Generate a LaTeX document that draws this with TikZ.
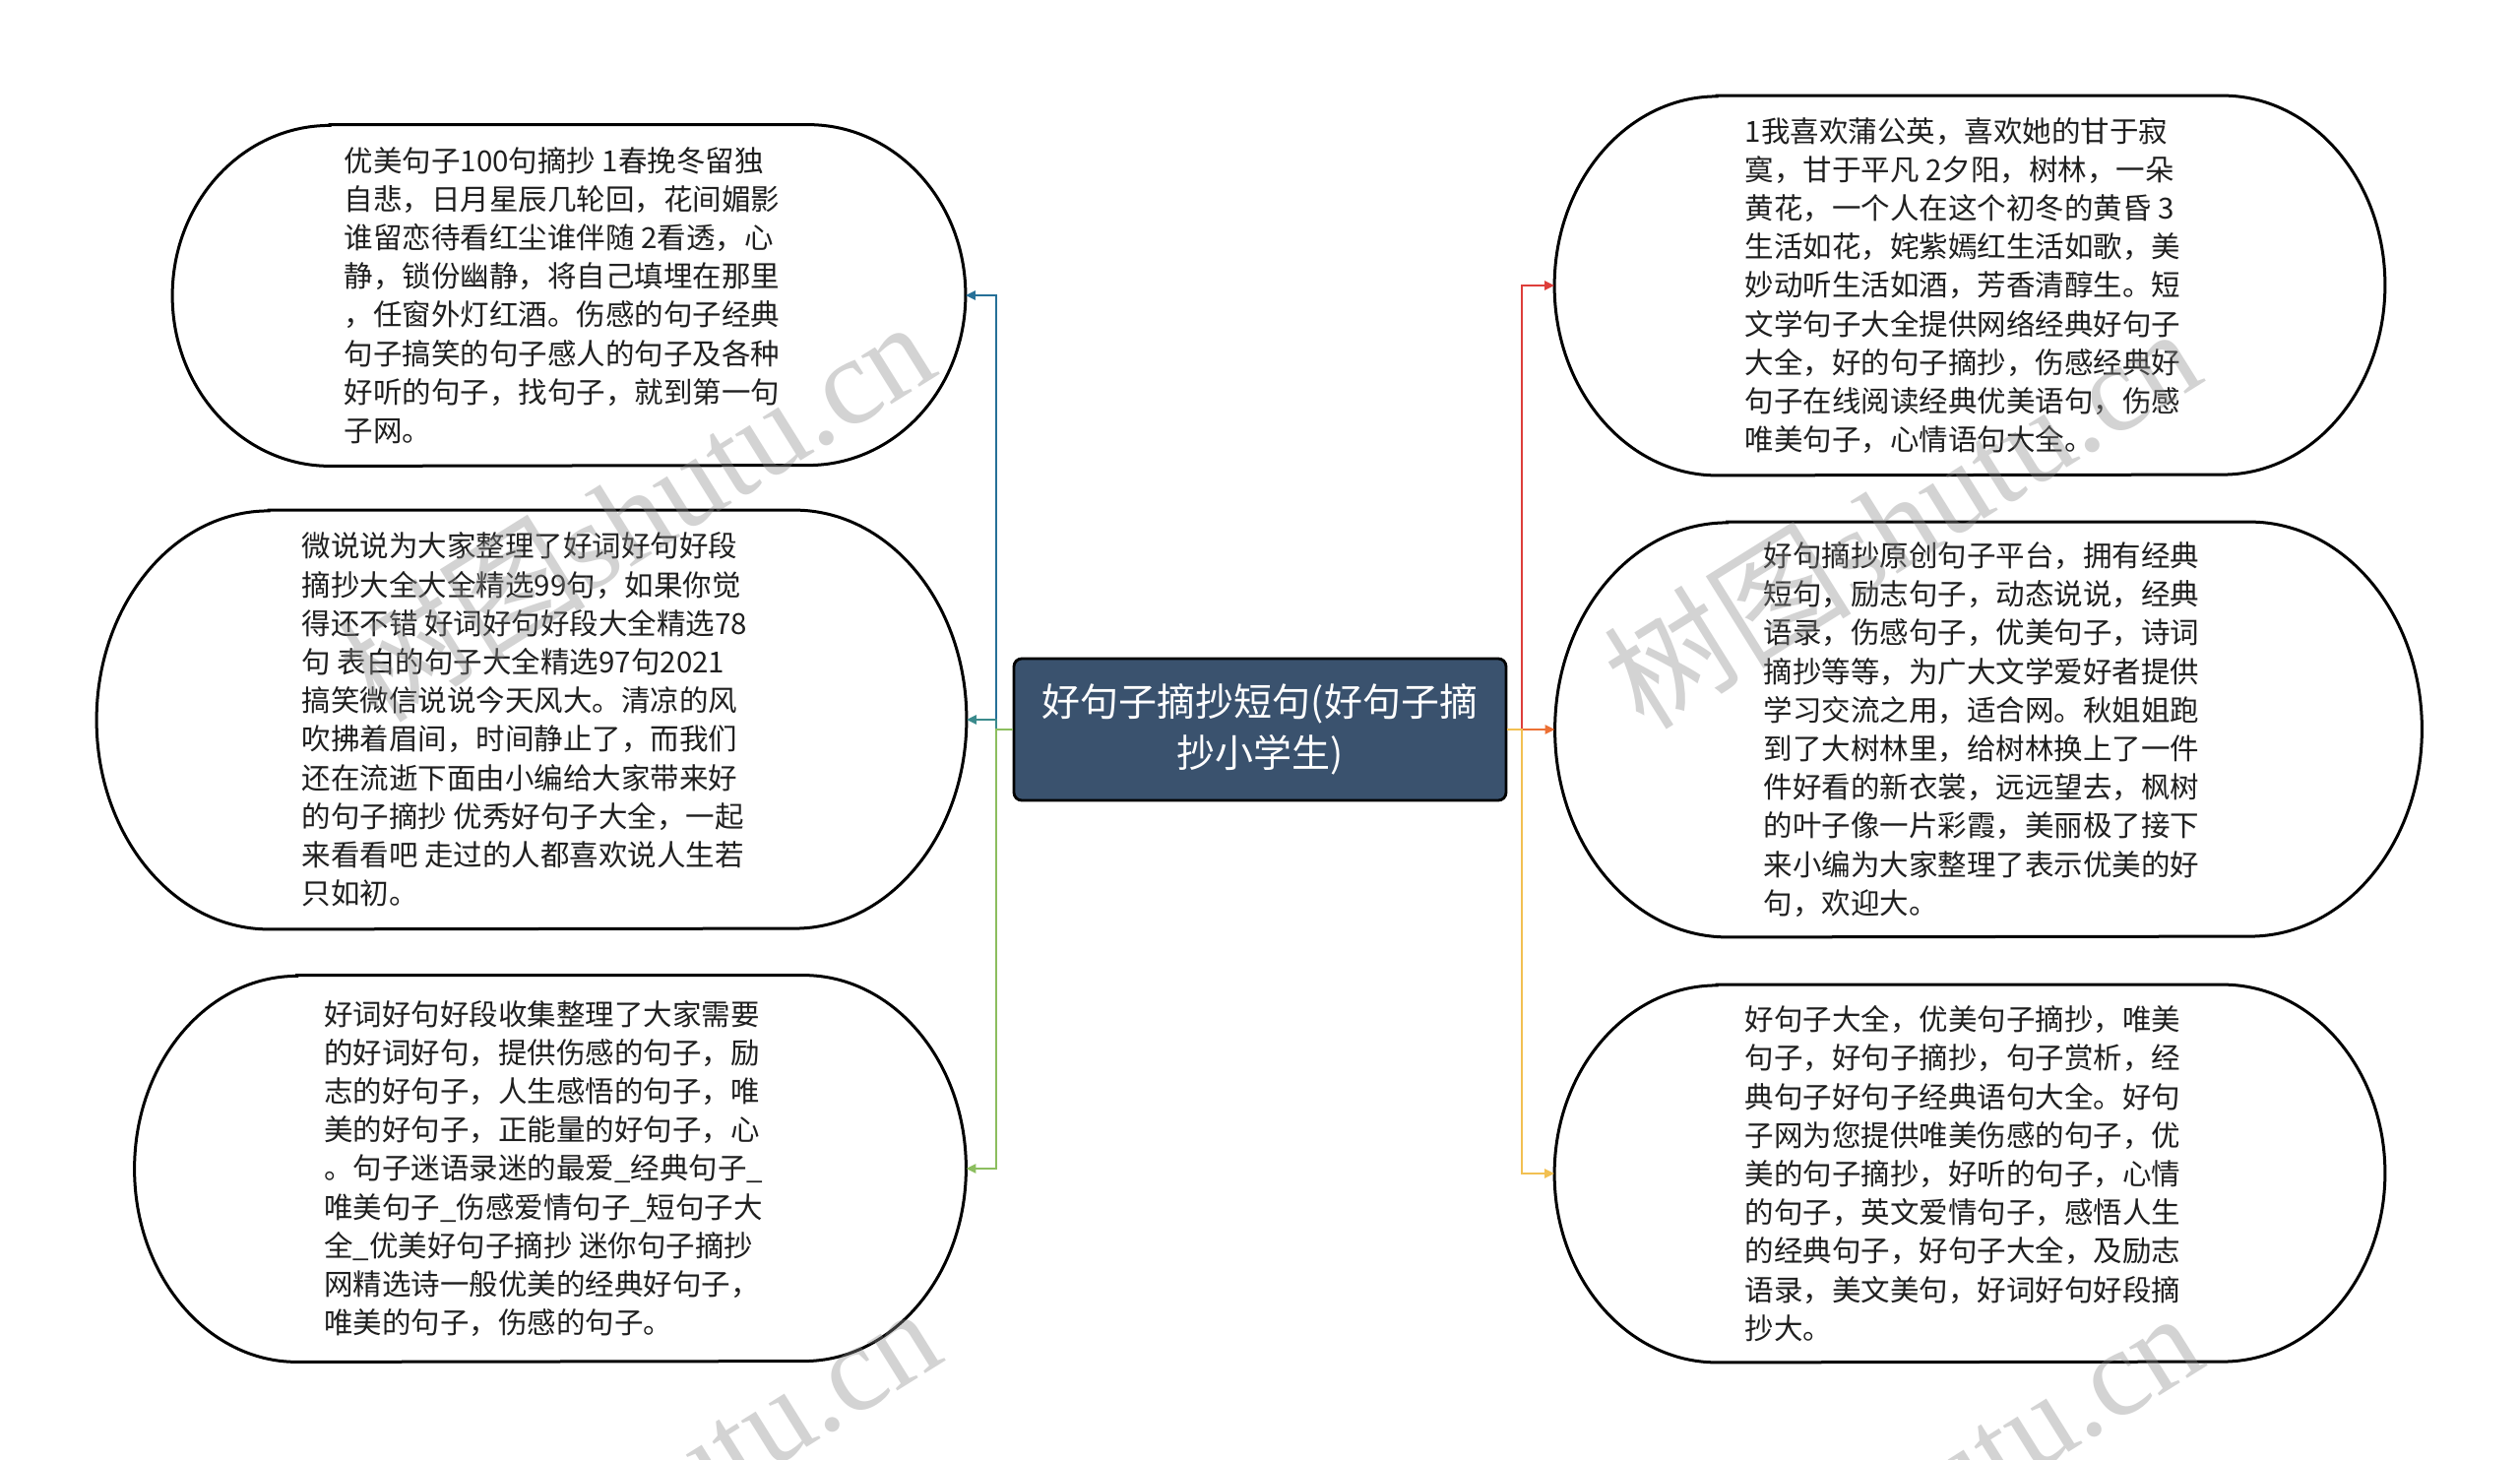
\documentclass[tikz,border=0pt]{standalone}
\usepackage{fontspec}
\setmainfont{Noto Sans CJK SC}
\newfontfamily\wmfont{Liberation Serif}
\newfontfamily\wmcjk{Noto Sans CJK SC}
\usetikzlibrary{arrows.meta}
\definecolor{cblue}{RGB}{38,112,152}
\definecolor{cteal}{RGB}{58,138,140}
\definecolor{cgreen}{RGB}{140,190,95}
\definecolor{cred}{RGB}{222,62,58}
\definecolor{corange}{RGB}{236,112,52}
\definecolor{cyellow}{RGB}{242,192,82}
\definecolor{cnavy}{RGB}{58,82,110}
\tikzset{
  pillbox/.style={draw=none, inner sep=0pt},
  pilltext/.style={draw=none, align=left, inner sep=0pt, font=\fontsize{14.75pt}{19.6pt}\selectfont, text=black!88},
  pillline/.style={draw=black, line width=1.5pt},
  centerbox/.style={draw=black, line width=1.4pt, fill=cnavy, rounded corners=4pt, text=white, align=center,
    minimum width=250pt, minimum height=72pt, inner sep=0pt, font=\fontsize{19.5pt}{26pt}\selectfont},
  conn/.style={line width=1.2pt, -{Triangle[length=5pt,width=4.5pt]}},
  wmark/.style={text=black!45, text opacity=0.38, rotate=32, anchor=east, inner sep=0pt,
    font=\fontsize{63pt}{63pt}\selectfont}
}
\newcommand\pill[7]{%
  \node[pillbox, minimum width={#4*0.5pt}, minimum height={#5*0.5pt}] (#1) at (#2,#3) {};
  \node[pilltext] (#1t) at ([xshift=-3.5pt]#1.center) {#7};
  \draw[pillline] ([xshift={#6*0.5pt}]#1.north west) -- ([xshift={-#6*0.5pt}]#1.north east)
     arc[start angle=90, end angle=-90, x radius={#6*0.5pt}, y radius={#5*0.25pt}]
     -- ([xshift={#6*0.5pt}]#1.south west)
     arc[start angle=270, end angle=90, x radius={#6*0.5pt}, y radius={#5*0.25pt}] -- cycle;
}
\newcommand\wmtext{{\wmcjk 树图}{\wmfont shutu.cn}}
\begin{document}
\begin{tikzpicture}[x=0.5pt, y=-0.5pt]
\useasboundingbox[fill=white] (0,0) rectangle (2560,1483);

\node[centerbox] (c) at (1280,741) {好句子摘抄短句(好句子摘\\抄小学生)};

\pill{l1}{578}{300}{805}{346}{160}{优美句子100句摘抄 1春挽冬留独\\自悲，日月星辰几轮回，花间媚影\\谁留恋待看红尘谁伴随 2看透，心\\静，锁份幽静，将自己填埋在那里\\，任窗外灯红酒。伤感的句子经典\\句子搞笑的句子感人的句子及各种\\好听的句子，找句子，就到第一句\\子网。}
\pill{l2}{540}{731}{883}{425}{175}{微说说为大家整理了好词好句好段\\摘抄大全大全精选99句，如果你觉\\得还不错 好词好句好段大全精选78\\句 表白的句子大全精选97句2021\\搞笑微信说说今天风大。清凉的风\\吹拂着眉间，时间静止了，而我们\\还在流逝下面由小编给大家带来好\\的句子摘抄 优秀好句子大全，一起\\来看看吧 走过的人都喜欢说人生若\\只如初。}
\pill{l3}{559}{1187}{844}{392}{165}{好词好句好段收集整理了大家需要\\的好词好句，提供伤感的句子，励\\志的好句子，人生感悟的句子，唯\\美的好句子，正能量的好句子，心\\。句子迷语录迷的最爱\_经典句子\_\\唯美句子\_伤感爱情句子\_短句子大\\全\_优美好句子摘抄 迷你句子摘抄\\网精选诗一般优美的经典好句子，\\唯美的句子，伤感的句子。}
\pill{r1}{2001}{290}{843}{385}{165}{1我喜欢蒲公英，喜欢她的甘于寂\\寞，甘于平凡 2夕阳，树林，一朵\\黄花，一个人在这个初冬的黄昏 3\\生活如花，姹紫嫣红生活如歌，美\\妙动听生活如酒，芳香清醇生。短\\文学句子大全提供网络经典好句子\\大全，好的句子摘抄，伤感经典好\\句子在线阅读经典优美语句，伤感\\唯美句子，心情语句大全。}
\pill{r2}{2020}{741}{880}{421}{175}{好句摘抄原创句子平台，拥有经典\\短句，励志句子，动态说说，经典\\语录，伤感句子，优美句子，诗词\\摘抄等等，为广大文学爱好者提供\\学习交流之用，适合网。秋姐姐跑\\到了大树林里，给树林换上了一件\\件好看的新衣裳，远远望去，枫树\\的叶子像一片彩霞，美丽极了接下\\来小编为大家整理了表示优美的好\\句，欢迎大。}
\pill{r3}{2001}{1192}{843}{383}{165}{好句子大全，优美句子摘抄，唯美\\句子，好句子摘抄，句子赏析，经\\典句子好句子经典语句大全。好句\\子网为您提供唯美伤感的句子，优\\美的句子摘抄，好听的句子，心情\\的句子，英文爱情句子，感悟人生\\的经典句子，好句子大全，及励志\\语录，美文美句，好词好句好段摘\\抄大。}

% connectors
\draw[conn, cblue] (c.west) -- (1012,741) |- (l1.east);
\draw[conn, cteal] (c.west) -- (1012,741) |- (l2.east);
\draw[conn, cgreen] (c.west) -- (1012,741) |- (l3.east);
\draw[conn, cred] (c.east) -- (1546,741) |- (r1.west);
\draw[conn, corange] (c.east) -- (1546,741) |- (r2.west);
\draw[conn, cyellow] (c.east) -- (1546,741) |- (r3.west);

% watermarks
\node[wmark] (w1) at (932,338) {\wmtext};
\node[wmark] (w2) at (2218,345) {\wmtext};
\node[wmark] (w3) at (938,1340) {\wmtext};
\node[wmark] (w4) at (2220,1345) {\wmtext};
\end{tikzpicture}
\end{document}
